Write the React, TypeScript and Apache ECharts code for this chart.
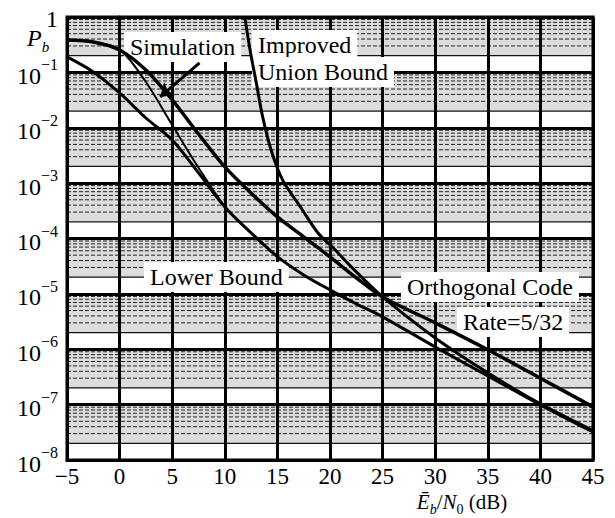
import React, { useEffect, useRef } from "react";
import * as echarts from "echarts";

const FONT = "Liberation Serif, Times New Roman, serif";

// Eb/N0 sample points (dB) shared by the two full-range curves
const snr = [-5, -2.5, 0, 2.5, 5, 7.5, 10, 12.5, 15, 17.5, 20, 22.5, 25, 30, 35, 40, 45];
// upper full-range curve
const upperCurve = [0.385, 0.354, 0.254, 0.11, 0.0318, 7.7e-3, 1.96e-3, 6.6e-4, 2.45e-4, 1.07e-4, 4.65e-5, 1.95e-5, 8.8e-6, 3.0e-6, 9.8e-7, 3.0e-7, 9.1e-8];
// lower bound
const lowerBound = [0.19, 0.102, 0.0425, 0.015, 6.0e-3, 1.53e-3, 3.7e-4, 1.26e-4, 4.7e-5, 2.2e-5, 1.18e-5, 6.6e-6, 3.85e-6, 1.1e-6, 3.3e-7, 9.9e-8, 3.2e-8];
// simulation
const simSnr = [-5, -2.5, 0, 2.5, 5, 7.5, 10, 12.5];
const simulation = [0.385, 0.354, 0.26, 0.067, 0.0112, 1.9e-3, 3.8e-4, 1.26e-4];
// improved union bound
const iubSnr = [11.9, 12.4, 13.0, 13.6, 14.4, 15.5, 17.2, 18.8, 20.5, 22.0, 25, 30, 35, 40, 45];
const improvedUnion = [1.0, 0.254, 0.064, 0.0157, 3.97e-3, 1.13e-3, 3.7e-4, 1.3e-4, 6.2e-5, 3.1e-5, 8.8e-6, 1.6e-6, 3.75e-7, 1.03e-7, 3.4e-8];

// decade exponents of the graph-paper bands, and minor multipliers inside a decade
const decades = [-8, -7, -6, -5, -4, -3, -2, -1];
const minorSteps = [2, 3, 4, 5, 6, 7, 8, 9];

const X_MIN = -5;
const X_MAX = 45;

const pairs = (xs: number[], ys: number[]) => xs.map((x, i) => [x, ys[i]]);

export default function App() {
  const ref = useRef<HTMLDivElement>(null);

  useEffect(() => {
    if (!ref.current) return;
    const chart = echarts.init(ref.current, null, { renderer: "svg" });

    const curve = (name: string, data: number[][], width: number) => ({
      name,
      type: "line",
      data,
      showSymbol: false,
      smooth: 0.3,
      z: 3,
      lineStyle: { color: "#000", width },
    });

    const option: any = {
      animation: false,
      backgroundColor: "#fff",
      textStyle: { fontFamily: FONT },
      grid: {
        left: 67,
        right: 22,
        top: 17,
        bottom: 58,
        show: true,
        borderColor: "#000",
        borderWidth: 3,
        backgroundColor: "transparent",
      },
      xAxis: {
        type: "value",
        min: X_MIN,
        max: X_MAX,
        interval: 5,
        axisLine: { show: true, lineStyle: { color: "#000", width: 3 } },
        axisTick: { show: false },
        splitLine: { show: true, lineStyle: { color: "#000", width: 3 } },
        axisLabel: {
          color: "#000",
          fontFamily: FONT,
          fontSize: 23,
          lineHeight: 19,
          margin: 7,
          formatter: (v: number) => (v < 0 ? "\u2212" + -v : String(v)),
        },
      },
      yAxis: {
        type: "log",
        logBase: 10,
        min: 1e-8,
        max: 1,
        splitNumber: 8,
        axisLine: { show: true, lineStyle: { color: "#000", width: 3 } },
        axisTick: { show: false },
        splitLine: { show: true, lineStyle: { color: "#000", width: 3 } },
        axisLabel: {
          margin: 9,
          formatter: (v: number) => {
            const e = Math.round(Math.log10(v));
            return e === 0 ? "{one|1}" : "{b|10}{s|\u2212" + -e + "}";
          },
          rich: {
            b: { fontFamily: FONT, fontSize: 24, color: "#000", verticalAlign: "bottom", padding: [7, 0, 0, 0] },
            s: { fontFamily: FONT, fontSize: 16, color: "#000", verticalAlign: "top" },
            one: { fontFamily: FONT, fontSize: 24, color: "#000", verticalAlign: "bottom", padding: [4, 0, 0, 0] },
          },
        },
      },
      series: [
        {
          name: "paper",
          type: "custom",
          z: -1,
          silent: true,
          data: decades.map((d) => [X_MIN, Math.pow(10, d)]),
          renderItem: (params: any, api: any) => {
            const base = api.value(1);
            const bl = api.coord([X_MIN, minorSteps[0] * base]);
            const tr = api.coord([X_MAX, 10 * base]);
            const children: any[] = [
              {
                type: "rect",
                shape: { x: bl[0], y: tr[1], width: tr[0] - bl[0], height: bl[1] - tr[1] },
                style: { fill: "#dcdcdc" },
              },
            ];
            minorSteps.forEach((k, i) => {
              const a = api.coord([X_MIN, k * base]);
              const b = api.coord([X_MAX, k * base]);
              children.push({
                type: "line",
                shape: { x1: a[0], y1: a[1], x2: b[0], y2: b[1] },
                style:
                  i === 0
                    ? { stroke: "#111", lineWidth: 1.2 }
                    : { stroke: "#222", lineWidth: 1, lineDash: [4, 2] },
              });
            });
            return { type: "group", children };
          },
        },
        curve("Upper", pairs(snr, upperCurve), 3.5),
        curve("Lower Bound", pairs(snr, lowerBound), 3),
        curve("Improved Union Bound", pairs(iubSnr, improvedUnion), 3),
        {
          ...curve("Simulation", pairs(simSnr, simulation), 2),
          markLine: {
            silent: true,
            symbol: ["none", "arrow"],
            symbolSize: 13,
            label: { show: false },
            lineStyle: { color: "#000", width: 3, type: "solid" },
            data: [[{ coord: [7.6, 0.148] }, { coord: [3.85, 0.036] }]],
          },
        },
      ],
      graphic: [
        ...[
          { text: "Simulation", x: 124, y: 47 },
          { text: "Improved", x: 252, y: 45 },
          { text: "Union Bound", x: 252, y: 72 },
          { text: "Lower Bound", x: 144, y: 277 },
          { text: "Orthogonal Code", x: 401, y: 287 },
          { text: "Rate=5/32", x: 457, y: 322 },
        ].map((t) => ({
          type: "text",
          z: 1,
          x: t.x,
          y: t.y,
          style: {
            text: t.text,
            fontFamily: FONT,
            fontSize: 24,
            fill: "#000",
            textAlign: "left",
            textVerticalAlign: "middle",
            backgroundColor: "#fff",
            padding: [3, 6, 3, 6],
          },
        })),
        {
          type: "text",
          z: 5,
          x: 27,
          y: 40,
          style: {
            text: "{i|P}{sb|b}",
            textAlign: "left",
            textVerticalAlign: "middle",
            rich: {
              i: { fontFamily: FONT, fontStyle: "italic", fontSize: 24, color: "#000", verticalAlign: "top", padding: [0, 0, 5, 0] },
              sb: { fontFamily: FONT, fontStyle: "italic", fontSize: 15, color: "#000", verticalAlign: "bottom" },
            },
          },
        },
        {
          type: "text",
          z: 5,
          x: 462,
          y: 504,
          style: {
            text: "{i|\u0112}{sb|b}{r|/}{i|N}{sn|0}{r| (dB)}",
            textAlign: "center",
            textVerticalAlign: "middle",
            rich: {
              i: { fontFamily: FONT, fontStyle: "italic", fontSize: 21, color: "#000", verticalAlign: "top", padding: [0, 0, 4, 0] },
              r: { fontFamily: FONT, fontSize: 21, color: "#000", verticalAlign: "top", padding: [0, 0, 4, 0] },
              sb: { fontFamily: FONT, fontStyle: "italic", fontSize: 14, color: "#000", verticalAlign: "bottom" },
              sn: { fontFamily: FONT, fontSize: 14, color: "#000", verticalAlign: "bottom" },
            },
          },
        },
      ],
    };

    chart.setOption(option);
    return () => chart.dispose();
  }, []);

  return (
    <div
      ref={ref}
      style={{ position: "absolute", left: 0, top: 0, width: 615, height: 518 }}
    />
  );
}
